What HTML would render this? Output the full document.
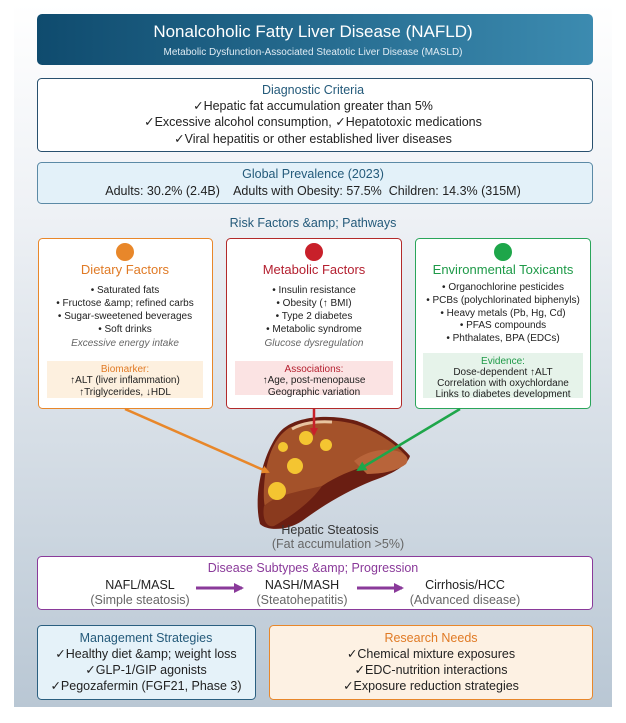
<!DOCTYPE html>
<html><head><meta charset="utf-8"><style>
html,body{margin:0;padding:0;background:#fff;}
svg{display:block;font-family:"Liberation Sans",sans-serif;}
</style></head><body>
<svg width="626" height="723" viewBox="0 0 626 723">
<defs>
<linearGradient id="bg" x1="0" y1="0" x2="0" y2="1">
<stop offset="0" stop-color="#ffffff"/><stop offset="0.3" stop-color="#eef1f5"/><stop offset="1" stop-color="#b9c7d4"/></linearGradient>
<linearGradient id="hd" x1="0" y1="0" x2="1" y2="0">
<stop offset="0" stop-color="#0f4b6e"/><stop offset="1" stop-color="#3c8bb0"/></linearGradient>
<marker id="ao" markerWidth="8" markerHeight="8" refX="6" refY="4" orient="auto" markerUnits="userSpaceOnUse"><path d="M0,0L8,4L0,8z" fill="#e8872a"/></marker>
<marker id="ar" markerWidth="8" markerHeight="8" refX="6" refY="4" orient="auto" markerUnits="userSpaceOnUse"><path d="M0,0L8,4L0,8z" fill="#c8202a"/></marker>
<marker id="ag" markerWidth="10" markerHeight="10" refX="8" refY="5" orient="auto" markerUnits="userSpaceOnUse"><path d="M0,0L10,5L0,10z" fill="#1ea64a"/></marker>
<marker id="ap" markerWidth="10" markerHeight="10" refX="8" refY="5" orient="auto" markerUnits="userSpaceOnUse"><path d="M0,0L10,5L0,10z" fill="#8a3a9a"/></marker>
</defs>
<rect x="14" y="3" width="598" height="704" fill="url(#bg)"/>
<rect x="37" y="14" width="556" height="51" rx="5" fill="url(#hd)"/>
<text x="313" y="37" text-anchor="middle" font-size="17" fill="#fff">Nonalcoholic Fatty Liver Disease (NAFLD)</text>
<text x="313" y="55" text-anchor="middle" font-size="10" fill="#e0ecf4">Metabolic Dysfunction-Associated Steatotic Liver Disease (MASLD)</text>

<rect x="37.5" y="78.5" width="555" height="73" rx="4" fill="#fff" stroke="#28506e"/>
<text x="313" y="94" text-anchor="middle" font-size="12.5" fill="#245a7a">Diagnostic Criteria</text>
<text x="313" y="110" text-anchor="middle" font-size="12.5" fill="#222">✓Hepatic fat accumulation greater than 5%</text>
<text x="313" y="126" text-anchor="middle" font-size="12.5" fill="#222">✓Excessive alcohol consumption, ✓Hepatotoxic medications</text>
<text x="313" y="143" text-anchor="middle" font-size="12.5" fill="#222">✓Viral hepatitis or other established liver diseases</text>

<rect x="37.5" y="162.5" width="555" height="41" rx="4" fill="#e3f1f9" stroke="#5b8aa6"/>
<text x="313" y="178" text-anchor="middle" font-size="12.5" fill="#245a7a">Global Prevalence (2023)</text>
<text x="313" y="195" text-anchor="middle" font-size="12.5" fill="#222" xml:space="preserve">Adults: 30.2% (2.4B)    Adults with Obesity: 57.5%  Children: 14.3% (315M)</text>

<text x="313" y="227" text-anchor="middle" font-size="12.5" fill="#245a7a">Risk Factors &amp;amp; Pathways</text>

<!-- dietary -->
<rect x="38.5" y="238.5" width="174" height="170" rx="4" fill="#fff" stroke="#e8872a"/>
<circle cx="125" cy="252" r="9" fill="#e8872a"/>
<text x="125" y="274" text-anchor="middle" font-size="13" fill="#e07a25">Dietary Factors</text>
<g font-size="10" fill="#222" text-anchor="middle">
<text x="125" y="293">• Saturated fats</text>
<text x="125" y="306">• Fructose &amp;amp; refined carbs</text>
<text x="125" y="319">• Sugar-sweetened beverages</text>
<text x="125" y="332">• Soft drinks</text>
<text x="125" y="346" font-style="italic" fill="#666">Excessive energy intake</text>
</g>
<rect x="47" y="361" width="156" height="37" fill="#fdf0df"/>
<g font-size="10" text-anchor="middle"><text x="125" y="372" fill="#e07a25">Biomarker:</text>
<text x="125" y="383" fill="#222">↑ALT (liver inflammation)</text>
<text x="125" y="395" fill="#222">↑Triglycerides, ↓HDL</text></g>

<!-- metabolic -->
<rect x="226.5" y="238.5" width="175" height="170" rx="4" fill="#fff" stroke="#b22a2a"/>
<circle cx="314" cy="252" r="9" fill="#c8202a"/>
<text x="314" y="274" text-anchor="middle" font-size="13" fill="#b42030">Metabolic Factors</text>
<g font-size="10" fill="#222" text-anchor="middle">
<text x="314" y="293">• Insulin resistance</text>
<text x="314" y="306">• Obesity (↑ BMI)</text>
<text x="314" y="319">• Type 2 diabetes</text>
<text x="314" y="332">• Metabolic syndrome</text>
<text x="314" y="346" font-style="italic" fill="#666">Glucose dysregulation</text>
</g>
<rect x="235" y="361" width="158" height="34" fill="#fbe3e3"/>
<g font-size="10" text-anchor="middle"><text x="314" y="372" fill="#b42030">Associations:</text>
<text x="314" y="383" fill="#222">↑Age, post-menopause</text>
<text x="314" y="395" fill="#222">Geographic variation</text></g>

<!-- environmental -->
<rect x="415.5" y="238.5" width="175" height="170" rx="4" fill="#fff" stroke="#2aa55a"/>
<circle cx="503" cy="252" r="9" fill="#1ea64a"/>
<text x="503" y="274" text-anchor="middle" font-size="13" fill="#1e9a48">Environmental Toxicants</text>
<g font-size="10" fill="#222" text-anchor="middle">
<text x="503" y="290">• Organochlorine pesticides</text>
<text x="503" y="303">• PCBs (polychlorinated biphenyls)</text>
<text x="503" y="316">• Heavy metals (Pb, Hg, Cd)</text>
<text x="503" y="328">• PFAS compounds</text>
<text x="503" y="341">• Phthalates, BPA (EDCs)</text>
</g>
<rect x="423" y="353" width="160" height="45" fill="#e6f3ea"/>
<g font-size="10" text-anchor="middle"><text x="503" y="364" fill="#1e9a48">Evidence:</text>
<text x="503" y="375" fill="#222">Dose-dependent ↑ALT</text>
<text x="503" y="386" fill="#222">Correlation with oxychlordane</text>
<text x="503" y="397" fill="#222">Links to diabetes development</text></g>

<!-- liver -->
<g transform="translate(2,-4)">
<path d="M285,430 C300,420 330,418 355,425 C375,432 395,445 408,460 C405,470 390,478 370,485 C345,495 320,510 300,525 C285,535 265,535 258,528 C252,505 258,470 270,448 C275,438 280,433 285,430Z" fill="#6a1e12"/>
<path d="M287,432 C305,424 330,422 352,428 C372,434 392,446 404,460 C395,466 380,468 365,470 C350,474 335,480 320,490 C305,500 290,505 275,520 C262,525 260,505 263,480 C266,460 272,442 287,432Z" fill="#a4522a"/>
<path d="M352,465 C365,455 380,452 395,455 C404,458 408,462 404,468 C395,475 380,478 365,478 Z" fill="#b8643a"/>
<path d="M262,510 C275,498 300,495 320,490 C310,505 290,520 272,530 C264,532 260,522 262,510Z" fill="#8a3a1e"/>
<path d="M290,433 C300,427 315,425 330,426" stroke="#e8c4a0" stroke-width="3" fill="none"/>
<g fill="#f4c531"><circle cx="304" cy="442" r="7"/><circle cx="324" cy="449" r="6"/><circle cx="281" cy="451" r="5"/><circle cx="293" cy="470" r="8"/><circle cx="275" cy="495" r="9"/></g>
</g>

<line x1="125" y1="409" x2="268" y2="472" stroke="#e8872a" stroke-width="2.5" marker-end="url(#ao)"/>
<line x1="314" y1="409" x2="314" y2="434" stroke="#c8202a" stroke-width="2.5" marker-end="url(#ar)"/>
<line x1="460" y1="409" x2="358" y2="470" stroke="#1ea64a" stroke-width="2.5" marker-end="url(#ag)"/>

<text x="330" y="534" text-anchor="middle" font-size="12.5" fill="#333">Hepatic Steatosis</text>
<text x="338" y="548" text-anchor="middle" font-size="12.5" fill="#666">(Fat accumulation &gt;5%)</text>

<rect x="37.5" y="556.5" width="555" height="53" rx="4" fill="#fff" stroke="#8a3a9a"/>
<text x="313" y="572" text-anchor="middle" font-size="12.5" fill="#8a3a9a">Disease Subtypes &amp;amp; Progression</text>
<g font-size="12.5" text-anchor="middle">
<text x="140" y="589" fill="#222">NAFL/MASL</text><text x="140" y="604" fill="#666">(Simple steatosis)</text>
<text x="302" y="589" fill="#222">NASH/MASH</text><text x="302" y="604" fill="#666">(Steatohepatitis)</text>
<text x="465" y="589" fill="#222">Cirrhosis/HCC</text><text x="465" y="604" fill="#666">(Advanced disease)</text>
</g>
<line x1="196" y1="588" x2="242" y2="588" stroke="#8a3a9a" stroke-width="3" marker-end="url(#ap)"/>
<line x1="357" y1="588" x2="402" y2="588" stroke="#8a3a9a" stroke-width="3" marker-end="url(#ap)"/>

<rect x="37.5" y="625.5" width="218" height="74" rx="4" fill="#e5f2f9" stroke="#2a5f80"/>
<g text-anchor="middle" font-size="12.5"><text x="146" y="642" fill="#245a7a">Management Strategies</text>
<text x="146" y="658" fill="#222">✓Healthy diet &amp;amp; weight loss</text>
<text x="146" y="674" fill="#222">✓GLP-1/GIP agonists</text>
<text x="146" y="690" fill="#222">✓Pegozafermin (FGF21, Phase 3)</text></g>

<rect x="269.5" y="625.5" width="323" height="74" rx="4" fill="#fdf1e3" stroke="#e8872a"/>
<g text-anchor="middle" font-size="12.5"><text x="431" y="642" fill="#e07a25">Research Needs</text>
<text x="431" y="658" fill="#222">✓Chemical mixture exposures</text>
<text x="431" y="674" fill="#222">✓EDC-nutrition interactions</text>
<text x="431" y="690" fill="#222">✓Exposure reduction strategies</text></g>
</svg>
</body></html>
